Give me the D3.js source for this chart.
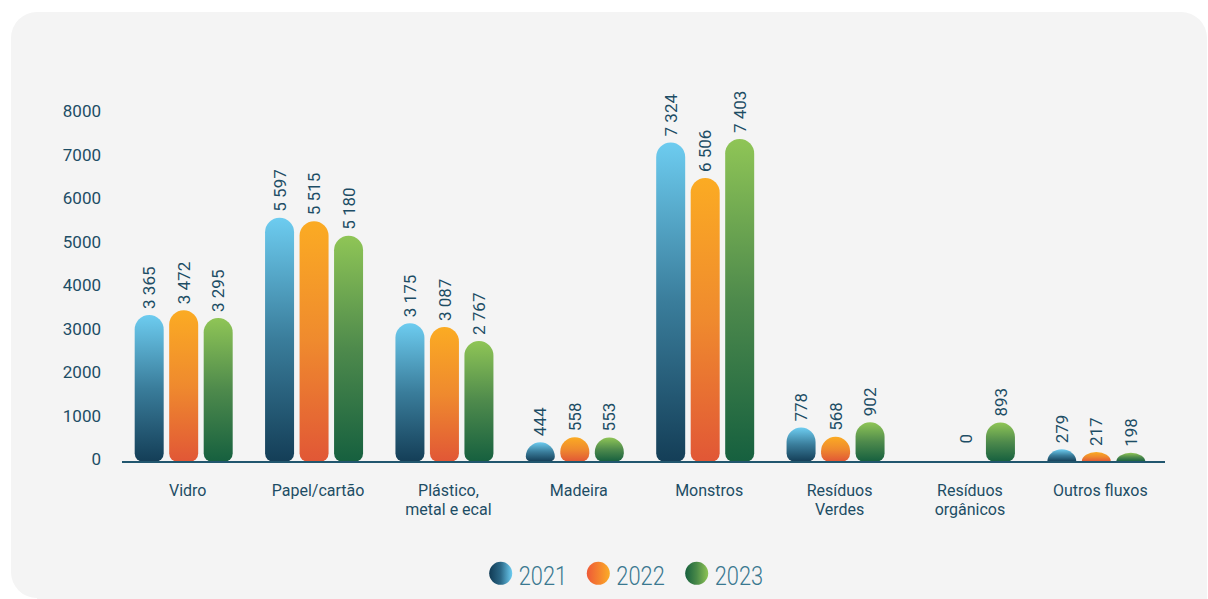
<!DOCTYPE html>
<html>
<head>
<meta charset="utf-8">
<script src="https://cdn.jsdelivr.net/npm/d3@7"></script>
<style>
  html, body { margin: 0; padding: 0; background: #ffffff; }
  svg { display: block; }
</style>
</head>
<body>
<svg id="chart" width="1208" height="599"></svg>
<script>
// Waste collected by stream, 2021–2023 (tonnes)
const categories = ["Vidro", "Papel/cartão", "Plástico, metal e ecal", "Madeira", "Monstros", "Resíduos Verdes", "Resíduos orgânicos", "Outros fluxos"];
const categoryLines = [["Vidro"], ["Papel/cartão"], ["Plástico,", "metal e ecal"], ["Madeira"], ["Monstros"], ["Resíduos", "Verdes"], ["Resíduos", "orgânicos"], ["Outros fluxos"]];
const years = ["2021", "2022", "2023"];
const values2021 = [3365, 5597, 3175, 444, 7324, 778, null, 279];
const values2022 = [3472, 5515, 3087, 558, 6506, 568, 0, 217];
const values2023 = [3295, 5180, 2767, 553, 7403, 902, 893, 198];
const yTicks = [0, 1000, 2000, 3000, 4000, 5000, 6000, 7000, 8000];

const seriesValues = { "2021": values2021, "2022": values2022, "2023": values2023 };

// vertical gradients for bars (top -> bottom)
const barStops = {
  "2021": ["#6dccf0", "#3a7d9b", "#143e57"],
  "2022": ["#fbab23", "#ef8a2e", "#e15736"],
  "2023": ["#8fc556", "#4e8a4c", "#16603f"]
};
// horizontal gradients for legend dots (left -> right)
const dotStops = {
  "2021": ["#113b55", "#2b6887", "#6ccdf2"],
  "2022": ["#ee5a37", "#f5812f", "#fbac26"],
  "2023": ["#17603e", "#4a8a48", "#8ec455"]
};

const textColor = "#1d4d65";
const svg = d3.select("#chart");
const W = 1208, H = 599;

// background panel
const px = 11, py = 12, pr = 26;
svg.append("path")
  .attr("d", `M${px},${py + pr} A${pr},${pr} 0 0 1 ${px + pr},${py} L${W - pr - 1},${py} A${pr},${pr} 0 0 1 ${W - 1},${py + pr} L${W - 1},${H} L${px + pr},${H} L${px + pr},${H - 1} A${pr},${pr} 0 0 1 ${px},${H - pr - 1} Z`)
  .attr("fill", "#f4f4f4");

const defs = svg.append("defs");
years.forEach(yr => {
  const g = defs.append("linearGradient").attr("id", "bar" + yr)
    .attr("x1", 0).attr("y1", 0).attr("x2", 0).attr("y2", 1);
  barStops[yr].forEach((c, i) => g.append("stop").attr("offset", i / 2).attr("stop-color", c));
  const d = defs.append("linearGradient").attr("id", "dot" + yr)
    .attr("x1", 0).attr("y1", 0).attr("x2", 1).attr("y2", 0);
  dotStops[yr].forEach((c, i) => d.append("stop").attr("offset", i / 2).attr("stop-color", c));
});

// scales
const y = d3.scaleLinear().domain([0, 8000]).range([461.5, 113]);
const x = d3.scaleBand().domain(categories).range([118.5, 1161.5]).padding(0);
const xSub = d3.scaleBand().domain(years).range([-49, 49]).paddingInner(5.5 / 34.5).paddingOuter(0);

// y axis labels
const yAxis = d3.axisLeft(y).tickValues(yTicks).tickSize(0).tickPadding(0).tickFormat(d3.format("d"));
const yg = svg.append("g").attr("transform", "translate(101,-2)").call(yAxis);
yg.select(".domain").remove();
yg.selectAll("text")
  .attr("fill", textColor)
  .attr("font-family", "Roboto, 'Noto Sans', sans-serif")
  .attr("font-size", 17);

// bar shape: rounded top cap, softly rounded bottom corners
function barPath(x0, w, yTop, yBase) {
  const h = yBase - yTop;
  if (!(h > 0)) return null;
  const rx = w / 2;
  const rt = Math.min(rx, h);
  const rb = Math.max(0, Math.min(8, h - rt));
  return `M${x0},${yTop + rt}` +
    `A${rx},${rt} 0 0 1 ${x0 + w},${yTop + rt}` +
    `L${x0 + w},${yBase - rb}` +
    `A${rb},${rb} 0 0 1 ${x0 + w - rb},${yBase}` +
    `L${x0 + rb},${yBase}` +
    `A${rb},${rb} 0 0 1 ${x0},${yBase - rb}Z`;
}

const rows = [];
categories.forEach((c, i) => {
  years.forEach(yr => {
    rows.push({ category: c, year: yr, value: seriesValues[yr][i] });
  });
});

const numFmt = v => d3.format(",")(v).replace(/,/g, " ");

const bars = svg.append("g");
bars.selectAll("path")
  .data(rows.filter(d => d.value != null && d.value > 0))
  .join("path")
  .attr("d", d => {
    const cx = x(d.category) + x.bandwidth() / 2 + xSub(d.year);
    return barPath(cx, xSub.bandwidth(), y(d.value), y(0));
  })
  .attr("fill", d => `url(#bar${d.year})`);

// value labels, rotated
svg.append("g").selectAll("text")
  .data(rows.filter(d => d.value != null))
  .join("text")
  .attr("transform", d => {
    const cx = x(d.category) + x.bandwidth() / 2 + xSub(d.year) + xSub.bandwidth() / 2;
    const ly = d.value === 0 ? y(0) - 18 : y(d.value) - 6;
    return `translate(${cx},${ly}) rotate(-90)`;
  })
  .attr("dy", "0.36em")
  .attr("text-anchor", "start")
  .attr("fill", textColor)
  .attr("font-family", "Roboto, 'Noto Sans', sans-serif")
  .attr("font-size", 17)
  .text(d => numFmt(d.value));

// baseline
svg.append("line")
  .attr("x1", 122).attr("x2", 1165)
  .attr("y1", y(0) + 0.5).attr("y2", y(0) + 0.5)
  .attr("stroke", "#21566e").attr("stroke-width", 2);

// category labels
const cl = svg.append("g").selectAll("text")
  .data(categories)
  .join("text")
  .attr("x", d => x(d) + x.bandwidth() / 2 + 4)
  .attr("y", 496)
  .attr("text-anchor", "middle")
  .attr("fill", textColor)
  .attr("font-family", "Roboto, 'Noto Sans', sans-serif")
  .attr("font-size", 16);
cl.selectAll("tspan")
  .data((d, i) => categoryLines[i].map((t, j) => ({ t, j, cx: x(d) + x.bandwidth() / 2 + 4 })))
  .join("tspan")
  .attr("x", d => d.cx)
  .attr("dy", d => d.j === 0 ? 0 : 18.5)
  .text(d => d.t);

// legend
const legendX = [500.7, 598.3, 696.7];
const lg = svg.append("g").selectAll("g").data(years).join("g")
  .attr("transform", (d, i) => `translate(${legendX[i]},573.3)`);
lg.append("circle").attr("r", 11.5).attr("fill", d => `url(#dot${d})`);
lg.append("text")
  .attr("transform", "translate(18,11.7) scale(0.84,1)")
  .attr("fill", "#3a7890")
  .attr("font-family", "Roboto, 'Noto Sans', sans-serif")
  .attr("font-weight", 300)
  .attr("font-size", 26)
  .text(d => d);
</script>
</body>
</html>
